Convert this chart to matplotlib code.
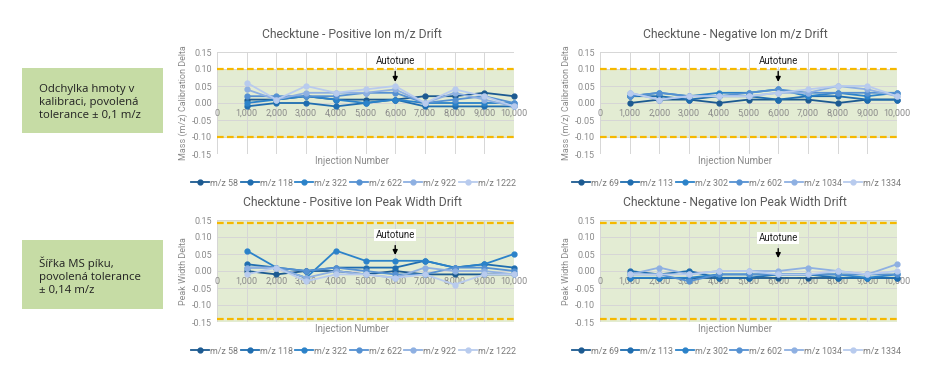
import matplotlib.pyplot as plt
from matplotlib.ticker import MultipleLocator, FuncFormatter

plt.rcParams['font.family'] = ['Roboto', 'DejaVu Sans']

injections = [1000, 2000, 3000, 4000, 5000, 6000, 7000, 8000, 9000, 10000]

pos_labels = ['m/z 58', 'm/z 118', 'm/z 322', 'm/z 622', 'm/z 922', 'm/z 1222']
neg_labels = ['m/z 69', 'm/z 113', 'm/z 302', 'm/z 602', 'm/z 1034', 'm/z 1334']

pos_mass = [
    [0.01, 0.01, 0.02, 0.01, 0.01, 0.01, 0.02, 0.02, 0.03, 0.02],
    [-0.01, 0.0, 0.0, -0.01, 0.0, 0.01, -0.01, -0.01, -0.01, -0.01],
    [0.0, 0.01, 0.02, 0.01, 0.0, 0.01, 0.0, 0.0, 0.0, 0.0],
    [0.02, 0.02, 0.02, 0.02, 0.03, 0.03, 0.0, 0.01, 0.02, 0.0],
    [0.04, 0.01, 0.03, 0.03, 0.03, 0.04, 0.0, 0.03, 0.01, -0.01],
    [0.06, 0.01, 0.05, 0.03, 0.04, 0.05, 0.0, 0.04, 0.02, -0.01],
]
neg_mass = [
    [0.0, 0.01, 0.01, 0.0, 0.01, 0.01, 0.01, 0.0, 0.01, 0.01],
    [0.02, 0.02, 0.01, 0.02, 0.02, 0.01, 0.02, 0.02, 0.01, 0.01],
    [0.02, 0.03, 0.02, 0.03, 0.03, 0.04, 0.02, 0.03, 0.02, 0.03],
    [0.02, 0.03, 0.02, 0.02, 0.03, 0.04, 0.03, 0.03, 0.03, 0.03],
    [0.03, 0.01, 0.02, 0.02, 0.02, 0.03, 0.03, 0.05, 0.04, 0.02],
    [0.03, 0.01, 0.02, 0.02, 0.02, 0.03, 0.04, 0.05, 0.05, 0.02],
]
pos_width = [
    [0.0, -0.01, 0.0, 0.0, -0.01, 0.0, -0.01, -0.01, -0.01, -0.01],
    [0.02, 0.01, 0.0, 0.01, 0.01, 0.01, 0.03, 0.01, 0.02, 0.01],
    [0.06, 0.01, -0.02, 0.06, 0.03, 0.03, 0.03, 0.01, 0.02, 0.05],
    [0.01, 0.01, 0.0, 0.01, 0.0, -0.01, -0.01, 0.01, 0.01, 0.0],
    [0.01, 0.01, -0.02, 0.0, -0.01, -0.02, 0.01, 0.0, 0.0, -0.01],
    [-0.01, 0.01, -0.03, -0.01, -0.01, -0.02, -0.01, -0.04, -0.01, -0.01],
]
neg_width = [
    [-0.02, -0.02, -0.02, -0.02, -0.02, -0.02, -0.02, -0.02, -0.02, -0.02],
    [0.0, -0.01, 0.0, -0.02, -0.02, -0.01, -0.01, -0.02, -0.02, -0.02],
    [-0.02, -0.02, -0.02, -0.01, -0.01, -0.01, -0.01, -0.01, -0.02, -0.01],
    [-0.01, -0.01, -0.03, -0.01, -0.01, -0.01, -0.01, -0.01, -0.01, -0.01],
    [-0.01, 0.01, -0.01, 0.0, 0.0, 0.0, 0.01, 0.0, -0.01, 0.02],
    [-0.01, -0.01, -0.01, 0.0, 0.0, -0.01, -0.01, 0.0, -0.01, 0.0],
]

colors = ['#1c5a91', '#1f6db0', '#2b82c9', '#5591d2', '#8eb0e2', '#b8cbee']
gray = '#8a8a8a'
green = '#e3ecd3'
gold = '#f5b800'

fig = plt.figure(figsize=(9.4, 3.81), dpi=100)


def draw_panel(rect, title, ylabel, labels, series, tol, shade, arrow):
    text_y, tip_y = arrow
    ax = fig.add_axes(rect)
    ax.set_xlim(0, 10000)
    ax.set_ylim(-0.15, 0.15)
    ax.axhspan(-shade, shade, color=green, zorder=0, lw=0)
    ax.xaxis.set_major_locator(MultipleLocator(1000))
    ax.yaxis.set_major_locator(MultipleLocator(0.05))
    ax.xaxis.set_major_formatter(FuncFormatter(lambda v, p: f'{int(v):,}'))
    ax.yaxis.set_major_formatter(FuncFormatter(lambda v, p: f'{v:.2f}'))
    ax.grid(True, color='#d6d6d6', lw=0.7, zorder=1)
    ax.set_axisbelow(True)
    for side in ['top', 'right', 'left']:
        ax.spines[side].set_visible(False)
    ax.spines['bottom'].set_position(('data', 0))
    ax.spines['bottom'].set_color('#d6d6d6')
    ax.spines['bottom'].set_linewidth(0.7)
    ax.tick_params(length=0, labelsize=6.5, labelcolor=gray)
    ax.tick_params(axis='x', pad=4)
    for val, lab, col in zip(series, labels, colors):
        ax.plot(injections, val, color=col, lw=1.3, marker='o', ms=3.5,
                label=lab, zorder=3, clip_on=False)
    for y in (tol, -tol):
        ax.axhline(y, color=gold, lw=1.6, ls=(0, (3, 1.5)), zorder=4)
    ax.annotate('Autotune', xy=(6000, tip_y), xytext=(6000, text_y),
                ha='center', va='center', fontsize=7, color='#222222',
                bbox=dict(boxstyle='square,pad=0.15', fc='white', ec='none'),
                arrowprops=dict(arrowstyle='-|>', color='black', lw=1,
                                mutation_scale=7, shrinkA=3, shrinkB=0),
                zorder=5)
    ax.text(0.455, 1.175, title, transform=ax.transAxes, ha='center',
            va='center', fontsize=8.7, color='#595959')
    ax.text(0.455, -0.07, 'Injection Number', transform=ax.transAxes,
            ha='center', va='center', fontsize=7, color=gray)
    ax.set_ylabel(ylabel, fontsize=6.5, color=gray, labelpad=3)
    ax.legend(loc='center', bbox_to_anchor=(0.46, -0.285), ncol=6,
              frameon=False, fontsize=6.4, labelcolor='#7a7a7a',
              handlelength=2.0, columnspacing=0.3, handletextpad=0.12)
    return ax


w = 297 / 940
h = 102 / 381
draw_panel([217 / 940, 1 - 154 / 381, w, h],
           'Checktune - Positive Ion m/z Drift',
           'Mass (m/z) Calibration Delta', pos_labels, pos_mass,
           0.10, 0.10, (0.124, 0.062))
draw_panel([600 / 940, 1 - 154 / 381, w, h],
           'Checktune - Negative Ion m/z Drift',
           'Mass (m/z) Calibration Delta', neg_labels, neg_mass,
           0.10, 0.10, (0.124, 0.062))
draw_panel([217 / 940, 1 - 322 / 381, w, h],
           'Checktune - Positive Ion Peak Width Drift',
           'Peak Width Delta', pos_labels, pos_width,
           0.14, 0.15, (0.106, 0.047))
draw_panel([600 / 940, 1 - 322 / 381, w, h],
           'Checktune - Negative Ion Peak Width Drift',
           'Peak Width Delta', neg_labels, neg_width,
           0.14, 0.15, (0.097, 0.038))

# green note boxes on the left
notes = [
    (68, 133, 'Odchylka hmoty v\nkalibraci, povolená\ntolerance ± 0,1 m/z'),
    (240, 309, 'Šířka MS píku,\npovolená tolerance\n± 0,14 m/z'),
]
for top, bottom, txt in notes:
    box = plt.Rectangle((22 / 940, 1 - bottom / 381), 141 / 940,
                        (bottom - top) / 381, transform=fig.transFigure,
                        color='#c6dca5', lw=0)
    fig.patches.append(box)
    fig.text(39 / 940, 1 - (top + bottom) / 2 / 381 - 0.004, txt, ha='left',
             va='center', fontsize=8.2, color='#222222', linespacing=1.25,
             family=['Open Sans', 'DejaVu Sans'])

fig.savefig('out.png', dpi=100)
